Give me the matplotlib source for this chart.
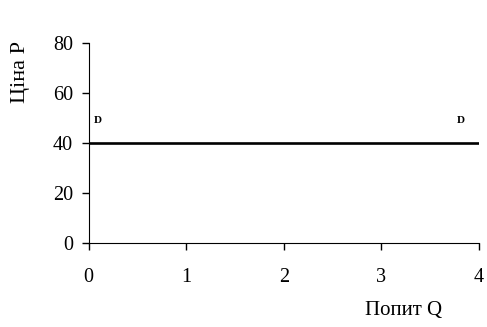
import matplotlib
matplotlib.use('Agg')
import matplotlib.pyplot as plt

# demand curve data (perfectly elastic demand)
quantity = [0, 4]
price = [40, 40]
x_ticks = [0, 1, 2, 3, 4]
y_ticks = [0, 20, 40, 60, 80]
d_labels = [(0.10, 49), (3.81, 49)]

plt.rcParams['font.family'] = ['Liberation Serif', 'DejaVu Serif']

W, H = 487, 327
fig = plt.figure(figsize=(W / 100, H / 100), dpi=100)
ax = fig.add_axes([88.5 / W, 1 - 243.3 / H, (479 - 88.5) / W, 200 / H])

ax.plot(quantity, price, color='black', linewidth=1.9, solid_capstyle='butt')

for x, y in d_labels:
    ax.text(x, y, 'D', fontsize=8, fontweight='bold', ha='center', va='center')

ax.set_xlim(0, 4)
ax.set_ylim(0, 80)
ax.set_xticks(x_ticks)
ax.set_yticks(y_ticks)
ax.tick_params(labelsize=14.5, length=5, width=1, direction='out')
ax.tick_params(axis='y', pad=6)
ax.tick_params(axis='x', pad=13)
for s in ['top', 'right']:
    ax.spines[s].set_visible(False)

# axis titles placed like the original
fig.text(20 / W, 1 - 72 / H, 'Ціна P', rotation=90, fontsize=16,
         ha='center', va='center')
fig.text(404 / W, 1 - 311 / H, 'Попит Q', fontsize=15,
         ha='center', va='center')

fig.savefig('out.png', dpi=100)
